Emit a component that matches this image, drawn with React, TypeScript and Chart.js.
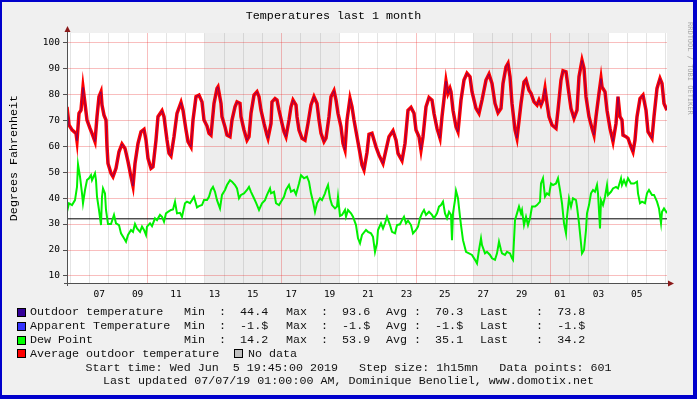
import React, { useEffect, useRef } from 'react';
import { Chart, registerables } from 'chart.js';

Chart.register(...registerables);

// ---- data ----
const STEP_HOURS = 1.25; // 1h15mn per data point
const X_MAX_HOURS = 750; // 600 steps

// [step index, °F]
const outdoorTemp: [number, number][] = [
  [0,75.1],[2,68.1],[5,66.2],[9,64.9],[10,62.0],[12,72.6],[14,73.8],[16,82.6],[18,76.4],[20,70.0],[23,66.8],[25,64.9],[28,61.7],[30,71.3],[32,79.0],[34,80.9],[35,75.8],[37,71.9],[39,70.0],[40,59.7],[41,53.3],[44,49.5],[46,48.2],[49,51.4],[52,57.8],[55,60.8],[58,59.1],[61,54.0],[64,48.2],[66,44.6],[68,53.3],[71,61.0],[74,65.5],[77,66.4],[79,62.3],[81,55.3],[84,51.4],[86,52.0],[89,62.3],[91,71.3],[95,73.6],[97,71.3],[100,62.3],[102,57.2],[104,56.2],[107,63.6],[110,72.6],[114,76.8],[116,73.8],[119,66.2],[121,61.7],[124,59.7],[126,70.0],[129,79.0],[132,79.6],[135,77.0],[137,70.0],[140,67.7],[142,64.9],[144,64.2],[147,76.4],[150,82.2],[151,82.8],[154,76.4],[155,71.3],[158,67.4],[160,64.2],[163,63.6],[165,70.0],[168,75.1],[170,77.0],[173,76.4],[174,71.3],[177,66.2],[180,62.3],[182,63.6],[184,72.6],[187,79.6],[190,80.9],[192,79.0],[194,73.8],[197,68.7],[200,64.2],[201,63.0],[204,68.7],[205,77.0],[208,78.3],[210,77.7],[212,73.8],[215,68.7],[217,65.5],[219,63.6],[222,70.0],[224,75.1],[226,77.7],[229,75.8],[230,71.3],[232,66.2],[235,63.0],[238,62.3],[241,68.7],[244,75.8],[247,79.0],[250,76.4],[252,70.0],[254,64.9],[257,61.7],[259,63.0],[262,71.3],[264,79.0],[267,81.3],[269,77.7],[271,72.6],[274,67.4],[276,61.0],[278,58.5],[280,70.0],[283,78.3],[285,75.1],[287,70.0],[290,63.6],[293,57.2],[295,52.7],[297,50.8],[300,57.5],[302,64.5],[305,64.9],[309,59.7],[312,56.5],[316,53.3],[319,58.5],[322,63.6],[326,65.9],[329,62.3],[331,57.2],[335,54.4],[338,61.0],[341,73.8],[344,74.9],[347,72.6],[349,66.2],[352,63.6],[354,58.5],[356,63.6],[359,75.1],[362,78.7],[365,77.7],[367,72.6],[370,66.8],[373,63.0],[375,71.3],[378,81.5],[379,85.0],[381,80.3],[383,82.2],[384,80.9],[386,73.8],[389,67.4],[391,65.5],[394,77.7],[397,85.4],[400,88.0],[403,86.7],[405,80.9],[409,74.5],[412,72.6],[415,77.7],[419,85.4],[422,87.7],[425,84.1],[428,76.4],[431,72.8],[434,74.5],[436,84.1],[439,90.5],[441,91.8],[443,86.7],[445,76.4],[448,66.2],[450,63.0],[454,76.4],[457,84.7],[459,85.6],[462,81.5],[464,80.3],[467,77.0],[470,75.8],[472,77.7],[474,75.8],[476,77.7],[478,82.2],[480,76.4],[482,71.3],[485,68.1],[489,66.8],[491,73.8],[494,85.4],[496,89.0],[499,88.6],[501,82.8],[504,74.5],[507,70.7],[510,73.8],[512,86.7],[515,93.0],[517,89.9],[519,79.0],[522,71.3],[525,66.8],[527,64.2],[529,71.3],[532,80.3],[534,86.0],[535,82.8],[538,80.9],[540,73.8],[543,66.8],[546,61.7],[549,68.7],[551,79.0],[553,71.3],[555,70.0],[556,64.2],[559,63.6],[561,63.0],[564,59.7],[566,57.8],[568,62.3],[570,71.3],[573,78.3],[576,79.6],[579,73.8],[581,65.5],[585,63.0],[587,71.3],[590,82.2],[591,83.5],[593,86.0],[595,84.1],[597,76.4],[600,73.8]
];

const dewPoint: [number, number][] = [
  [0,34.7],[2,38.0],[5,37.3],[8,39.2],[10,44.3],[11,53.0],[13,48.2],[15,41.8],[16,38.0],[18,43.1],[20,46.9],[22,47.6],[24,48.8],[25,46.9],[28,49.5],[29,46.9],[30,40.5],[32,35.4],[34,29.6],[35,40.5],[36,43.7],[38,41.8],[39,35.4],[41,30.0],[44,30.0],[47,33.5],[49,30.3],[52,29.6],[54,26.4],[57,24.5],[59,23.2],[61,25.8],[64,27.7],[66,27.0],[68,30.0],[70,28.3],[73,27.0],[75,29.0],[77,27.7],[79,25.8],[80,29.0],[83,30.3],[85,29.2],[88,32.2],[90,31.5],[93,33.5],[95,32.8],[97,30.9],[99,34.1],[101,34.7],[104,35.4],[106,35.6],[108,38.6],[110,34.1],[113,34.3],[115,32.8],[118,38.0],[120,38.6],[123,38.0],[125,39.2],[127,40.5],[130,36.4],[132,36.9],[135,37.3],[137,39.2],[140,39.2],[142,40.5],[144,43.1],[146,44.3],[148,42.4],[150,39.2],[153,36.0],[155,41.2],[158,43.1],[160,45.0],[163,46.9],[165,46.3],[168,45.0],[170,43.7],[172,39.9],[174,41.2],[177,41.8],[180,43.1],[182,44.3],[184,42.4],[187,39.9],[189,38.2],[192,35.4],[195,38.0],[198,39.2],[200,41.2],[203,43.7],[204,41.8],[207,42.4],[209,38.0],[212,37.3],[214,38.6],[217,40.5],[219,43.1],[222,45.0],[224,42.4],[227,43.1],[229,41.4],[232,45.6],[234,48.8],[237,47.6],[240,48.2],[242,46.3],[244,41.8],[246,38.6],[248,34.7],[250,38.0],[253,39.9],[255,39.2],[258,41.8],[259,43.1],[261,45.0],[263,39.9],[265,37.3],[268,36.0],[270,36.7],[271,40.5],[273,33.1],[275,33.5],[278,35.4],[279,32.8],[281,35.4],[284,34.1],[286,32.8],[289,29.6],[291,24.5],[293,22.6],[295,25.8],[299,27.7],[301,27.0],[304,26.4],[306,25.1],[308,19.3],[310,22.6],[311,27.7],[314,30.3],[316,28.3],[318,30.3],[320,32.8],[323,29.6],[325,27.0],[328,26.4],[330,29.6],[333,29.9],[335,31.5],[337,32.8],[339,30.3],[341,31.3],[344,29.6],[346,26.4],[349,27.7],[351,29.0],[353,32.2],[355,34.1],[357,35.4],[359,33.5],[362,34.7],[365,33.5],[367,32.2],[370,34.1],[372,36.7],[374,37.3],[376,38.6],[378,34.1],[380,32.2],[382,34.7],[384,33.5],[385,23.8],[386,34.1],[388,39.2],[389,42.8],[391,39.9],[393,32.8],[394,29.6],[396,23.8],[399,19.3],[402,18.7],[405,18.1],[408,16.2],[410,14.8],[412,20.0],[414,24.5],[415,21.9],[418,18.7],[420,19.3],[423,18.1],[425,16.8],[428,16.2],[430,18.7],[432,23.2],[434,20.0],[435,18.7],[438,18.1],[440,19.3],[443,18.7],[445,16.8],[446,16.2],[448,31.5],[450,34.1],[452,36.7],[454,34.1],[455,35.4],[457,29.6],[459,32.8],[461,29.6],[463,32.2],[465,36.7],[468,36.7],[470,37.3],[473,38.6],[474,45.6],[476,47.6],[478,40.5],[480,41.8],[482,41.2],[484,45.6],[486,45.0],[489,45.6],[491,47.6],[493,43.1],[495,38.0],[497,30.3],[499,26.4],[500,32.8],[502,39.9],[504,36.7],[506,39.9],[509,39.2],[510,36.7],[512,30.3],[514,22.6],[515,18.7],[517,20.0],[519,27.7],[520,34.1],[522,37.3],[524,41.8],[526,43.1],[528,42.4],[530,45.0],[531,41.8],[533,28.3],[534,39.2],[536,37.3],[538,40.5],[540,45.0],[541,41.2],[544,42.4],[546,43.7],[549,44.3],[551,43.7],[554,47.6],[555,45.0],[557,46.9],[559,45.0],[561,47.6],[564,45.6],[567,45.6],[570,46.3],[571,41.8],[573,38.0],[575,38.6],[578,38.0],[580,41.8],[582,43.1],[585,41.2],[587,41.2],[590,38.6],[592,36.0],[594,30.3],[595,34.7],[597,36.0],[600,34.2]
];

const freezingF = 32;
const yTickValues = [10, 15, 20, 25, 30, 35, 40, 45, 50, 55, 60, 65, 70, 75, 80, 85, 90, 95, 100];
const dayLabels = ['07', '09', '11', '13', '15', '17', '19', '21', '23', '25', '27', '29', '01', '03', '05'];
const firstMidnightHours = 4.25; // Thu Jun 6 00:00 after start Wed Jun 5 19:45
const mondayDayIndex = 4; // Jun 10 is the first Monday after Jun 6
const noDataBands: [number, number][] = [[172.25, 340.25], [508.25, 676.25]]; // hours from start

const legendRows = [
  { label: 'Outdoor temperature', color: '#330099', min: '44.4', max: '93.6', avg: '70.3', last: '73.8' },
  { label: 'Apparent Temperature', color: '#3333FF', min: '-1.$', max: '-1.$', avg: '-1.$', last: '-1.$' },
  { label: 'Dew Point', color: '#00FF00', min: '14.2', max: '53.9', avg: '35.1', last: '34.2' },
];

// ---- style ----
const MONO = '"Liberation Mono", "DejaVu Sans Mono", monospace';
const TICK_FONT = '"DejaVu Sans Mono", monospace';
const MAJOR_GRID = 'rgba(235, 40, 40, 0.3)';
const MINOR_GRID = 'rgba(120, 120, 120, 0.2)';
const AXIS = '#505050';
const ARROW = '#8B1A1A';

const toXY = (pts: [number, number][]) => pts.map(([s, v]) => ({ x: s * STEP_HOURS, y: v }));

const rrdPlugin = {
  id: 'rrdDecor',
  beforeDraw(chart: any) {
    const { ctx, chartArea: a, scales } = chart;
    const x = scales.x;
    ctx.save();
    ctx.fillStyle = '#FFFFFF';
    ctx.fillRect(a.left, a.top, a.right - a.left, a.bottom - a.top);
    ctx.fillStyle = '#EDEDED';
    for (const [s, e] of noDataBands) {
      const x0 = Math.max(x.getPixelForValue(s), a.left);
      const x1 = Math.min(x.getPixelForValue(e), a.right);
      ctx.fillRect(x0, a.top, x1 - x0, a.bottom - a.top);
    }
    ctx.restore();
  },
  afterDraw(chart: any) {
    const { ctx, chartArea: a } = chart;
    ctx.save();
    ctx.strokeStyle = AXIS;
    ctx.lineWidth = 1;
    ctx.beginPath();
    ctx.moveTo(a.left + 0.5, a.top - 3);
    ctx.lineTo(a.left + 0.5, a.bottom + 3);
    ctx.moveTo(a.left - 3, a.bottom + 0.5);
    ctx.lineTo(a.right + 3, a.bottom + 0.5);
    ctx.stroke();
    ctx.fillStyle = ARROW;
    ctx.beginPath();
    ctx.moveTo(a.left + 0.5, a.top - 7);
    ctx.lineTo(a.left - 2.5, a.top - 1);
    ctx.lineTo(a.left + 3.5, a.top - 1);
    ctx.closePath();
    ctx.fill();
    ctx.beginPath();
    ctx.moveTo(a.right + 7, a.bottom + 0.5);
    ctx.lineTo(a.right + 1, a.bottom - 2.5);
    ctx.lineTo(a.right + 1, a.bottom + 3.5);
    ctx.closePath();
    ctx.fill();
    ctx.restore();
  },
};

function Swatch({ color, top, left }: { color: string; top: number; left: number }) {
  return (
    <div
      style={{
        position: 'absolute', left, top, width: 9, height: 9, background: color,
        border: '1px solid #000', boxSizing: 'border-box',
      }}
    />
  );
}

function Txt({ left, top, children }: { left: number; top: number; children: React.ReactNode }) {
  return (
    <div style={{ position: 'absolute', left, top, whiteSpace: 'pre', fontFamily: MONO, fontSize: 11.7, lineHeight: '14px', color: '#111' }}>
      {children}
    </div>
  );
}

export default function App() {
  const canvasRef = useRef<HTMLCanvasElement | null>(null);

  useEffect(() => {
    if (!canvasRef.current) return;
    const tempXY = toXY(outdoorTemp);
    const chart = new Chart(canvasRef.current, {
      type: 'line',
      data: {
        datasets: [
          {
            label: 'Outdoor temperature', data: tempXY, borderColor: 'rgba(51, 0, 153, 0.55)', borderWidth: 1,
            pointRadius: 0, tension: 0, order: 0,
          },
          {
            label: 'Average outdoor temperature', data: tempXY, borderColor: '#FF0000', borderWidth: 3.5,
            pointRadius: 0, tension: 0, order: 1,
          },
          {
            label: 'Dew Point', data: toXY(dewPoint), borderColor: '#00F000', borderWidth: 2,
            pointRadius: 0, tension: 0, order: 2,
          },
          {
            label: 'Freezing', data: [{ x: 0, y: freezingF }, { x: X_MAX_HOURS, y: freezingF }],
            borderColor: '#000000', borderWidth: 1, pointRadius: 0, order: 3,
          },
        ],
      },
      options: {
        responsive: false,
        animation: false,
        events: [],
        layout: { padding: { left: 0, right: 30, top: 0, bottom: 96 } },
        plugins: {
          legend: { display: false },
          tooltip: { enabled: false },
          title: {
            display: true, text: 'Temperatures last 1 month', color: '#000',
            font: { family: MONO, size: 11.7, weight: 'normal' }, padding: { top: 9, bottom: 10 },
          },
        },
        scales: {
          x: {
            type: 'linear', min: 0, max: X_MAX_HOURS,
            afterBuildTicks: (s: any) => {
              const t = [];
              for (let h = firstMidnightHours; h <= X_MAX_HOURS; h += 12) t.push({ value: h });
              s.ticks = t;
            },
            afterFit: (s: any) => { s.height = 20; },
            ticks: {
              autoSkip: false, maxRotation: 0, minRotation: 0, padding: 6, color: '#000',
              font: { family: TICK_FONT, size: 9.5 },
              callback: (v: any) => {
                const k = Math.round((Number(v) - firstMidnightHours) / 12);
                if (k % 2 === 0) return '';
                const d = (k - 1) / 2;
                if (d % 2 === 0) return '';
                return dayLabels[(d - 1) / 2] ?? '';
              },
            },
            grid: {
              drawTicks: false,
              color: (c: any) => {
                const v = c.tick ? c.tick.value : 0;
                const k = Math.round((v - firstMidnightHours) / 12);
                if (k % 2 !== 0) return 'rgba(0,0,0,0)';
                const d = k / 2;
                return (d - mondayDayIndex) % 7 === 0 ? MAJOR_GRID : MINOR_GRID;
              },
            },
            border: { color: AXIS },
          },
          y: {
            min: 7.3, max: 103.5,
            afterBuildTicks: (s: any) => { s.ticks = yTickValues.map((v) => ({ value: v })); },
            afterFit: (s: any) => { s.width = 67; },
            ticks: {
              padding: 3, color: '#000', font: { family: TICK_FONT, size: 9.5 },
              callback: (v: any) => (Number(v) % 10 === 0 ? String(v) : ''),
            },
            grid: {
              tickLength: 4,
              color: (c: any) => (c.tick && c.tick.value % 10 === 0 ? MAJOR_GRID : MINOR_GRID),
              tickColor: (c: any) => (c.tick && c.tick.value % 10 === 0 ? AXIS : 'rgba(0,0,0,0)'),
            },
            border: { color: AXIS },
            title: {
              display: true, text: 'Degrees Fahrenheit', color: '#000',
              font: { family: MONO, size: 11.7, weight: 'normal' }, padding: { top: 7, bottom: 0 },
            },
          },
        },
      },
      plugins: [rrdPlugin],
    } as any);
    return () => chart.destroy();
  }, []);

  const rowTops = [305, 319, 333, 346.5];
  return (
    <div style={{ position: 'absolute', left: 0, top: 0, width: 697, height: 399, background: '#F0F0F0', overflow: 'hidden' }}>
      <canvas ref={canvasRef} width={697} height={399} style={{ position: 'absolute', left: 0, top: 0, width: 697, height: 399 }} />
      <div
        style={{
          position: 'absolute', left: 686, top: 22, writingMode: 'vertical-rl', fontFamily: TICK_FONT,
          fontSize: 7, color: '#A8A8A8', whiteSpace: 'pre',
        }}
      >
        RRDTOOL / TOBI OETIKER
      </div>
      {legendRows.map((r, i) => (
        <React.Fragment key={r.label}>
          <Swatch color={r.color} left={17} top={rowTops[i] + 2.5} />
          <Txt left={30} top={rowTops[i]}>{r.label}</Txt>
          <Txt left={184} top={rowTops[i]}>{`Min  :  ${r.min}`}</Txt>
          <Txt left={286} top={rowTops[i]}>{`Max  :  ${r.max}`}</Txt>
          <Txt left={386} top={rowTops[i]}>{`Avg :  ${r.avg}`}</Txt>
          <Txt left={480} top={rowTops[i]}>{`Last    :  ${r.last}`}</Txt>
        </React.Fragment>
      ))}
      <Swatch color="#FF0000" left={17} top={rowTops[3] + 2.5} />
      <Txt left={30} top={rowTops[3]}>Average outdoor temperature</Txt>
      <Swatch color="#C0C0C0" left={234} top={rowTops[3] + 2.5} />
      <Txt left={248} top={rowTops[3]}>No data</Txt>
      <div style={{ position: 'absolute', left: 0, width: 697, top: 361, textAlign: 'center', whiteSpace: 'pre', fontFamily: MONO, fontSize: 11.7, lineHeight: '14px', color: '#111' }}>
        {'Start time: Wed Jun  5 19:45:00 2019   Step size: 1h15mn   Data points: 601'}
      </div>
      <div style={{ position: 'absolute', left: 0, width: 697, top: 374, textAlign: 'center', whiteSpace: 'pre', fontFamily: MONO, fontSize: 11.7, lineHeight: '14px', color: '#111' }}>
        {'Last updated 07/07/19 01:00:00 AM, Dominique Benoliel, www.domotix.net'}
      </div>
      <div
        style={{
          position: 'absolute', left: 0, top: 0, width: 697, height: 399, boxSizing: 'border-box',
          borderStyle: 'solid', borderColor: '#0000CC', borderWidth: '2px 4px 4px 2px', pointerEvents: 'none',
        }}
      />
    </div>
  );
}
